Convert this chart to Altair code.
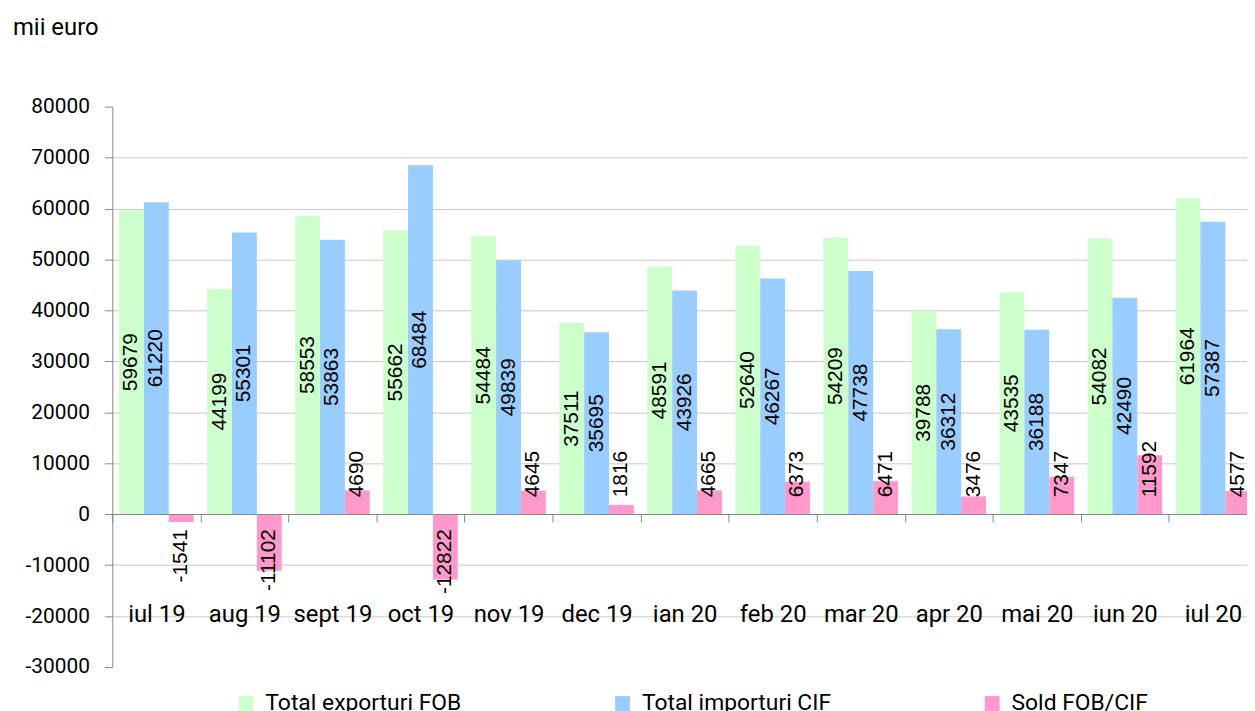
import altair as alt
import pandas as pd

months = ["iul 19", "aug 19", "sept 19", "oct 19", "nov 19", "dec 19", "ian 20",
          "feb 20", "mar 20", "apr 20", "mai 20", "iun 20", "iul 20"]
exports = [59679, 44199, 58553, 55662, 54484, 37511, 48591, 52640, 54209, 39788, 43535, 54082, 61964]
imports = [61220, 55301, 53863, 68484, 49839, 35695, 43926, 46267, 47738, 36312, 36188, 42490, 57387]
balance = [-1541, -11102, 4690, -12822, 4645, 1816, 4665, 6373, 6471, 3476, 7347, 11592, 4577]
series_names = ["Total exporturi FOB", "Total importuri CIF", "Sold FOB/CIF"]
series_colors = ["#CCFFCC", "#99CCFF", "#FF99CC"]
y_ticks = [-30000, -20000, -10000, 0, 10000, 20000, 30000, 40000, 50000, 60000, 70000, 80000]
unit_label = "mii euro"

rows = []
for i, m in enumerate(months):
    for s, vals in zip(series_names, [exports, imports, balance]):
        rows.append({"luna": m, "serie": s, "valoare": vals[i]})
df = pd.DataFrame(rows)

FONT = "Roboto"
LABEL_FONT = "Liberation Sans"

x_enc = alt.X(
    "luna:N", sort=months, title=None,
    scale=alt.Scale(range=[0, 1152], paddingInner=0.1535, paddingOuter=0.0768),
    axis=alt.Axis(
        orient="bottom", offset=-154, zindex=1,
        domainColor="#868686", tickColor="#868686", tickSize=8,
        bandPosition=0, tickOffset=-6.8, labelOffset=6.8,
        labelAngle=0, labelFont=FONT, labelFontSize=24, labelColor="black",
        labelBaseline="alphabetic", labelPadding=100, grid=False,
    ),
)
xo_enc = alt.XOffset("serie:N", sort=series_names,
                     scale=alt.Scale(paddingInner=0, paddingOuter=0))
y_scale = alt.Scale(domain=[-30000, 80000], nice=False, zero=False)
y_enc = alt.Y(
    "valoare:Q", scale=y_scale, title=None,
    axis=alt.Axis(
        values=y_ticks, domainColor="#868686", tickColor="#868686", tickSize=8,
        labelFont=FONT, labelFontSize=21, labelColor="black", labelPadding=15,
        labelExpr="'' + datum.value",
        grid=True, gridColor="#c8c8c8", gridWidth=1,
        gridOpacity={"condition": {"test": "datum.value >= 75000 || datum.value <= -25000", "value": 0}, "value": 1},
    ),
)

base = alt.Chart(df)

bars = base.mark_bar().encode(
    x=x_enc, xOffset=xo_enc, y=y_enc,
    color=alt.Color(
        "serie:N", sort=series_names,
        scale=alt.Scale(domain=series_names, range=series_colors),
        legend=alt.Legend(
            title=None, orient="none", direction="horizontal",
            legendX=123, legendY=589, symbolType="square", symbolSize=225,
            symbolStrokeWidth=0, symbolOpacity=1, labelFont=FONT, labelFontSize=23,
            labelColor="black", labelOffset=8, columnPadding=150, labelLimit=0,
        ),
    ),
)

lab_common = dict(font=LABEL_FONT, fontSize=21, color="black", angle=270)

lab_main = base.transform_filter(
    "datum.serie != 'Sold FOB/CIF'"
).transform_calculate(
    mid="datum.valoare / 2", lbl="'' + datum.valoare"
).mark_text(align="center", baseline="middle", **lab_common).encode(
    x=alt.X("luna:N", sort=months), xOffset=alt.XOffset("serie:N", sort=series_names),
    y=alt.Y("mid:Q", scale=y_scale), text="lbl:N",
)

lab_pos = base.transform_filter(
    "datum.serie == 'Sold FOB/CIF' && datum.valoare > 0"
).transform_calculate(
    zero="0", lbl="'' + datum.valoare"
).mark_text(align="left", baseline="middle", dx=17, **lab_common).encode(
    x=alt.X("luna:N", sort=months), xOffset=alt.XOffset("serie:N", sort=series_names),
    y=alt.Y("zero:Q", scale=y_scale), text="lbl:N",
)

lab_neg = base.transform_filter(
    "datum.serie == 'Sold FOB/CIF' && datum.valoare < 0"
).transform_calculate(
    zero="0", lbl="'' + datum.valoare"
).mark_text(align="right", baseline="middle", dx=-15, **lab_common).encode(
    x=alt.X("luna:N", sort=months), xOffset=alt.XOffset("serie:N", sort=series_names),
    y=alt.Y("zero:Q", scale=y_scale), text="lbl:N",
)

unit = alt.Chart(alt.Data(values=[{"t": unit_label}])).mark_text(
    align="left", baseline="alphabetic", font=FONT, fontSize=24, color="black"
).encode(x=alt.value(-100), y=alt.value(-72), text="t:N")

chart = alt.layer(bars, lab_main, lab_pos, lab_neg, unit).properties(
    width=1142, height=564,
    autosize=alt.AutoSizeParams(type="none"),
    padding={"left": 105, "top": 97, "right": 0, "bottom": 42},
).configure_view(stroke=None)

chart.save("out.html", embed_options={"renderer": "svg", "actions": False})
